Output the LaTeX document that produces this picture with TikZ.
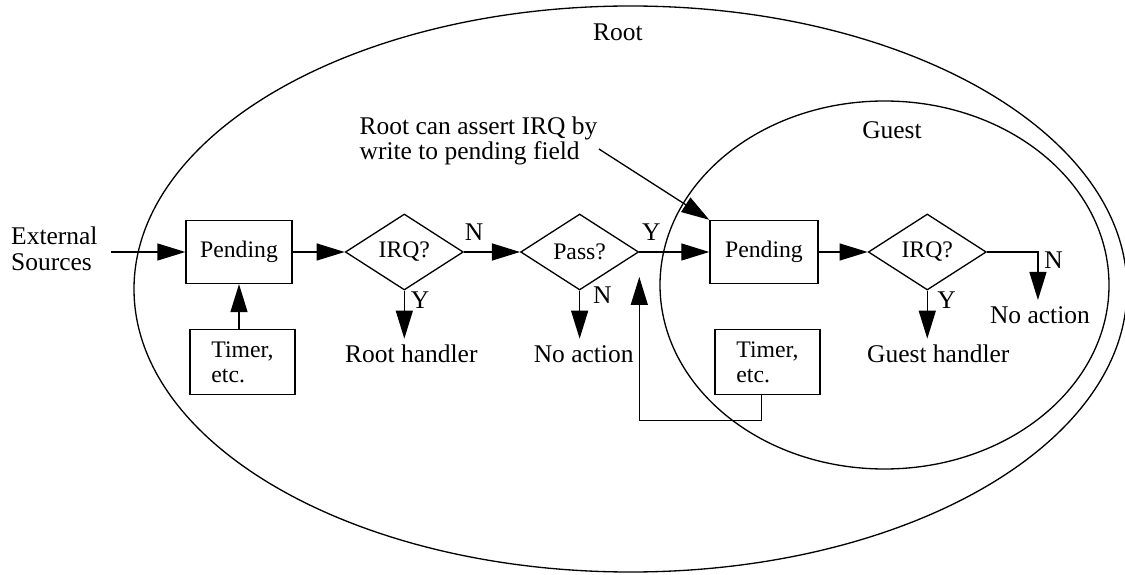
\documentclass[tikz,border=0pt]{standalone}
\usepackage{fontspec}
\setmainfont{Liberation Serif}
\usetikzlibrary{shapes.geometric,arrows.meta,positioning}

\begin{document}
\begin{tikzpicture}[line width=0.75pt,
    every node/.style={font=\fontsize{14.5}{14.2}\selectfont},
    box/.style={draw, minimum width=2.12cm, minimum height=1.26cm, font=\fontsize{13.5}{14}\selectfont},
    test/.style={draw, diamond, aspect=1.55, inner sep=0pt, minimum width=2.36cm, minimum height=1.52cm, font=\fontsize{13.5}{14}\selectfont},
    arr/.style={-{Triangle[length=0.56cm, width=0.34cm]}}]
  \useasboundingbox (0,0) rectangle (22.5,-11.5);

  % the two domains
  \draw (12.61,-5.78) ellipse (9.93cm and 5.66cm);
  \draw (17.69,-5.70) ellipse (4.49cm and 3.68cm);
  \node (root) at (12.36,-0.64) {Root};
  \node (guest) at (17.84,-2.60) {Guest};

  % root side
  \node[box] (pend1) at (4.78,-5.04) {Pending};
  \node[box, align=left, minimum width=2.1cm, minimum height=1.3cm, below=0.9cm of pend1, xshift=0.07cm] (timer1) {Timer,\\etc.};
  \node[left=1.48cm of pend1, inner xsep=7.5pt, align=left, yshift=0.06cm, font=\fontsize{14.5}{15.1}\selectfont] (ext) {External\\Sources};
  \node[test, right=1.04cm of pend1] (irq1) {IRQ?};
  \node[below=0.96cm of irq1, xshift=0.14cm] (rooth) {Root handler};
  \node[test, right=1.12cm of irq1] (pass) {Pass?};
  \node[below=0.96cm of pass, xshift=0.08cm] (noact1) {No action};

  % guest side
  \node[box, minimum width=2.16cm, right=1.4cm of pass] (pend2) {Pending};
  \node[box, align=left, minimum width=2.1cm, minimum height=1.3cm, below=0.9cm of pend2, xshift=0.07cm] (timer2) {Timer,\\etc.};
  \node[test, right=0.98cm of pend2] (irq2) {IRQ?};
  \node[below=0.96cm of irq2, xshift=0.22cm] (guesth) {Guest handler};
  \coordinate[right=1.02cm of irq2] (c2);
  \node[below=0.96cm of c2, xshift=0.04cm] (noact2) {No action};
  \coordinate[below=0.5cm of pass.east] (fb);

  \node[align=left] (note) at (9.57,-2.81) {Root can assert IRQ by\\write to pending field};

  \draw[arr] ([yshift=-0.06cm]ext.east) -- (pend1);
  \draw[arr] (timer1.north -| pend1.south) -- (pend1.south);
  \draw[arr] (pend1) -- (irq1);
  \draw[arr] (irq1) -- node[pos=0.18, above=3pt] {N} (pass);
  \draw[arr] (irq1.south) -- node[pos=0.2, right] {Y} (irq1.south |- rooth.north);
  \draw[arr] (pass) -- node[pos=0.17, above=3pt] {Y} (pend2);
  \draw[arr] (pass.south) -- node[pos=0.1, right=4pt] {N} (pass.south |- noact1.north);
  \draw[arr] (pend2) -- (irq2);
  \draw[arr] (irq2.south) -- node[pos=0.2, right=2pt] {Y} (irq2.south |- guesth.north);
  \draw[arr] (irq2.east) -- (c2) -- node[pos=0.16, right] {N} (c2 |- noact2.north);
  \draw[arr] ([xshift=-0.12cm]timer2.south) -- ++(0,-0.5) -| (fb);
  \draw[arr] ([shift={(-0.1,-0.17)}]note.east) -- (pend2.north west);
\end{tikzpicture}
\end{document}
